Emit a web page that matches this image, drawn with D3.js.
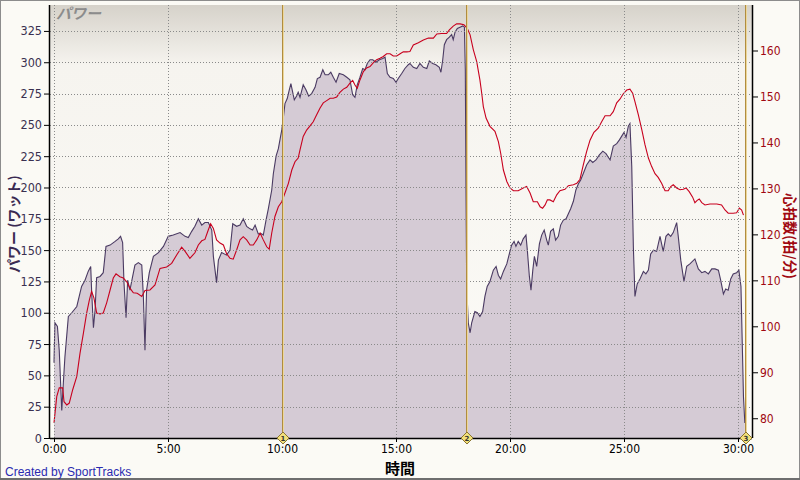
<!DOCTYPE html>
<html><head><meta charset="utf-8">
<script src="https://cdn.jsdelivr.net/npm/d3@7"></script>
<style>
html,body{margin:0;padding:0;background:#fff;}
svg{display:block;}
</style></head>
<body>
<svg id="c" width="800" height="480"></svg>
<script>
// ---- data (time in minutes) ----
const powerTime = [0.00,0.04,0.15,0.23,0.34,0.41,0.48,0.63,0.78,1.00,1.21,1.36,1.50,1.61,1.65,1.73,1.80,1.87,2.02,2.16,2.28,2.46,2.68,2.82,2.92,3.01,3.07,3.16,3.23,3.33,3.45,3.55,3.70,3.85,3.92,3.99,4.06,4.18,4.36,4.58,4.80,5.01,5.23,5.53,5.75,5.89,6.04,6.18,6.33,6.48,6.62,6.77,6.92,6.99,7.13,7.21,7.35,7.57,7.72,
7.84,8.01,8.16,8.30,8.45,8.60,8.71,8.82,8.96,9.11,9.18,9.30,9.40,9.55,9.62,9.74,9.84,9.91,9.99,10.06,10.13,10.23,10.32,10.39,10.47,10.54,10.64,10.71,10.79,10.93,11.05,11.17,11.30,11.45,11.55,11.67,11.79,11.89,12.03,12.14,12.25,12.37,12.51,12.69,12.84,12.98,13.10,13.20,13.30,13.42,13.54,13.64,13.74,13.86,13.98,14.12,14.27,14.42,14.52,14.62,14.74,14.88,15.00,15.10,15.25,15.39,15.54,15.61,
15.76,15.91,16.05,16.20,16.35,16.46,16.61,16.75,16.90,16.97,17.05,17.12,17.22,17.34,17.44,17.51,17.59,17.69,17.81,17.93,18.00,18.04,18.07,18.10,18.17,18.25,18.32,18.46,18.57,18.68,18.80,18.90,19.00,19.12,19.27,19.39,19.49,19.59,19.71,19.86,19.97,20.07,20.18,20.26,20.36,20.47,20.58,20.70,20.76,20.85,20.92,21.00,21.07,21.17,21.29,21.39,21.50,21.61,21.68,21.78,21.90,22.00,22.12,22.22,22.34,22.46,22.56,22.66,22.78,22.89,23.00,23.10,23.21,23.36,23.51,
23.63,23.77,23.92,24.07,24.21,24.39,24.53,24.68,24.80,24.90,25.00,25.09,25.19,25.26,25.34,25.41,25.48,25.58,25.70,25.85,25.96,26.07,26.17,26.29,26.43,26.58,26.65,26.72,26.84,26.94,27.05,27.16,27.31,27.38,27.49,27.63,27.75,27.89,28.11,28.26,28.41,28.55,28.70,28.85,28.99,29.14,29.24,29.36,29.46,29.57,29.68,29.79,29.94,30.04,30.13,30.19,30.24,30.30];
const powerValues = [60,92,89,70,22,44,65,97,100,105,121,126,133,137,118,88,102,128,129,132,153,154,157,159,161,156,124,96,126,118,129,138,140,138,113,70,118,132,145,148,153,161,162,164,161,160,165,169,175,170,172,172,166,145,124,142,148,146,150,
171,169,170,175,169,167,166,170,163,163,162,174,183,198,211,225,231,238,246,256,267,271,278,283,276,270,273,276,272,282,278,273,275,280,287,288,294,290,290,292,288,284,291,290,288,286,274,272,282,288,295,294,299,302,302,300,302,303,304,291,288,287,284,287,291,295,298,299,
296,295,299,296,295,301,299,298,296,292,302,314,318,320,322,318,324,327,328,329,328,294,200,121,92,84,92,101,100,97,101,113,121,125,134,137,130,127,133,139,147,154,157,153,157,154,159,162,150,129,118,134,145,137,155,162,166,158,154,165,167,158,161,170,174,175,179,183,189,198,203,206,211,218,222,
220,222,226,229,227,222,233,235,238,241,244,240,249,251,217,153,113,123,127,133,131,134,147,150,149,161,155,149,161,163,161,164,172,161,142,125,137,139,143,135,132,133,131,135,135,134,126,115,119,118,127,131,132,134,121,73,33,12];

const hrTime = [0.00,0.12,0.23,0.38,0.44,0.56,0.67,0.82,1.00,1.14,1.29,1.43,1.55,1.65,1.75,1.87,2.02,2.16,2.31,2.46,2.60,2.72,2.89,3.04,3.19,3.33,3.48,3.65,3.85,3.99,4.21,4.43,4.65,4.94,5.16,5.38,5.60,5.75,5.96,6.18,6.33,6.48,6.62,6.77,6.87,6.99,7.13,7.28,7.43,7.57,7.72,
7.86,8.01,8.16,8.30,8.45,8.60,8.74,8.89,9.04,9.18,9.33,9.44,9.55,9.69,9.84,9.99,10.13,10.28,10.43,10.57,10.71,10.79,10.93,11.08,11.23,11.37,11.52,11.67,11.81,11.96,12.11,12.25,12.40,12.54,12.69,12.84,12.98,13.10,13.20,13.30,13.42,13.57,13.71,13.86,14.00,14.15,14.30,14.44,14.59,14.74,14.88,15.03,15.18,15.32,15.47,15.61,
15.76,15.98,16.20,16.42,16.64,16.79,17.00,17.22,17.34,17.51,17.66,17.81,17.98,18.13,18.25,18.39,18.54,18.68,18.76,18.83,18.95,19.12,19.34,19.49,19.59,19.71,19.86,20.00,20.15,20.36,20.58,20.73,20.88,21.02,21.20,21.32,21.43,21.54,21.64,21.75,21.90,22.05,22.19,22.41,22.56,22.78,22.93,23.07,23.21,23.36,23.51,
23.68,23.87,24.02,24.17,24.39,24.53,24.68,24.82,24.97,25.12,25.26,25.38,25.48,25.63,25.78,25.92,26.07,26.21,26.36,26.50,26.65,26.80,26.94,27.05,27.16,27.31,27.46,27.60,27.72,27.86,28.01,28.11,28.21,28.30,28.41,28.55,28.77,29.07,29.28,29.43,29.57,29.79,29.94,30.06,30.16,30.24];
const hrValues = [79,84.7,86.6,86.6,83.6,82.9,83.3,86.2,89.1,94.1,98.5,102.8,105.7,107.6,106.2,102.9,102.7,102.9,105.1,107.9,110.5,111.4,110.8,110.5,109.7,108.3,107.3,107.2,106.5,107.8,107.9,109,112.6,112.9,113.7,115.5,117.2,116.3,114.8,116,117.7,118.6,118.9,121,122.3,121.3,118.8,118.1,117.7,115.8,114.8,
114.6,116.6,118.8,119.5,118.8,117.7,117.7,118.8,120.3,118.8,117.3,116.8,120.3,123.9,126,127.1,129,131.1,134,135.8,136.6,138.4,141.3,142.7,143.6,144.5,146,147.5,148.6,149.1,149.6,149.6,149.9,150.9,151.6,152,152.9,153.5,152.5,151.8,153.6,155.4,156.2,156.5,157.3,158,158.3,158.7,159.3,159.3,158.8,158.8,159.3,159.7,159.7,159.8,
161.2,161.7,162.3,162.7,162.7,163.6,163.7,163.7,164.5,165.3,165.8,165.8,165.6,164.8,163.4,160.2,157.6,153.6,150.7,147.8,145.3,143.5,142.4,140.2,137.7,134,131.5,130.1,129.5,129.5,130.1,130.4,129,127.1,127.1,126,125.7,126.4,127.5,127.5,127.1,128.6,129.5,129.8,130.6,130.8,131.1,132,135,138,140.5,
142.2,143.1,144.5,145.8,145.8,146.7,148.6,149.4,150.6,151.4,151.6,150.7,148.9,146,142.8,139.5,136.6,134.8,133.2,132.4,131.1,129.5,129.5,130.4,130.8,130.1,129.7,129.8,130.1,129.3,128.1,126.9,127.4,127.7,126.9,126.4,126.6,126.6,126.4,125.3,124.6,124.6,124.7,125.7,125.3,124.2];

const timeTicks = [0,5,10,15,20,25,30];
const timeTickLabels = ["0:00","5:00","10:00","15:00","20:00","25:00","30:00"];
const powerTicks = [0,25,50,75,100,125,150,175,200,225,250,275,300,325];
const hrTicks = [80,90,100,110,120,130,140,150,160];
const lapTimes = [10.01,18.07,30.31];
const lapLabels = ["1","2","3"];

// ---- layout ----
const L=50, R=752, T=5, B=438;
const svg = d3.select("#c");
const x = d3.scaleLinear().domain([-4/22.8, 698/22.8]).range([L,R]);
const yP = d3.scaleLinear().domain([0, 345.7]).range([B,T]);
const yH = d3.scaleLinear().domain([75.7, 169.9]).range([B,T]);

const defs = svg.append("defs");
const g1 = defs.append("linearGradient").attr("id","bg").attr("x1",0).attr("y1",0).attr("x2",0).attr("y2",1);
g1.append("stop").attr("offset","0").attr("stop-color","#d6d2ca");
g1.append("stop").attr("offset","0.14").attr("stop-color","#f6f4ef");
g1.append("stop").attr("offset","1").attr("stop-color","#fcfbf7");
defs.append("clipPath").attr("id","clip").append("rect").attr("x",L).attr("y",T).attr("width",R-L).attr("height",B-T);

// page background + frame
svg.append("rect").attr("x",0).attr("y",0).attr("width",800).attr("height",480).attr("fill","#fbfaf5");
svg.append("rect").attr("x",0.5).attr("y",0.5).attr("width",799).attr("height",478).attr("fill","none").attr("stroke","#8c8c8c").attr("stroke-width",1);
svg.append("rect").attr("x",0).attr("y",478).attr("width",800).attr("height",2).attr("fill","#6e6e6e");
svg.append("rect").attr("x",L).attr("y",T).attr("width",R-L).attr("height",B-T).attr("fill","url(#bg)");

const plot = svg.append("g").attr("clip-path","url(#clip)");

// power area
const pData = powerTime.map((t,i)=>[t,powerValues[i]]);
plot.append("path").datum(pData)
  .attr("d", d3.area().x(d=>x(d[0])).y0(B).y1(d=>yP(d[1])))
  .attr("fill","#d5cbd5");

// grid
const grid = svg.append("g");
powerTicks.filter(v=>v>0).forEach(v=>{
  grid.append("line").attr("x1",L).attr("x2",R).attr("y1",Math.round(yP(v))+0.5).attr("y2",Math.round(yP(v))+0.5)
    .attr("stroke","#8a8a8a").attr("stroke-dasharray","1,2");
});
timeTicks.forEach(v=>{
  grid.append("line").attr("x1",Math.round(x(v))+0.5).attr("x2",Math.round(x(v))+0.5).attr("y1",T).attr("y2",B+4)
    .attr("stroke","#8a8a8a").attr("stroke-dasharray","1,2");
});

// power line
plot.append("path").datum(pData)
  .attr("d", d3.line().x(d=>x(d[0])).y(d=>yP(d[1])))
  .attr("fill","none").attr("stroke","#4a3a62").attr("stroke-width",1.1);

// hr line
const hData = hrTime.map((t,i)=>[t,hrValues[i]]);
plot.append("path").datum(hData)
  .attr("d", d3.line().x(d=>x(d[0])).y(d=>yH(d[1])))
  .attr("fill","none").attr("stroke","#c8001e").attr("stroke-width",1.1);

// lap lines
lapTimes.forEach(t=>{
  const px = Math.round(x(t));
  svg.append("line").attr("x1",px+0.5).attr("x2",px+0.5).attr("y1",T).attr("y2",B).attr("stroke","#b08c40").attr("stroke-width",1);
  svg.append("line").attr("x1",px+1.5).attr("x2",px+1.5).attr("y1",T).attr("y2",B).attr("stroke","#ecd79a").attr("stroke-width",1);
});

// axes
const axF = '"Liberation Sans Narrow","DejaVu Sans Condensed",sans-serif';
const axL = svg.append("g").attr("transform",`translate(${L},0)`)
  .call(d3.axisLeft(yP).tickValues(powerTicks).tickSize(6).tickPadding(2));
const axB = svg.append("g").attr("transform",`translate(0,${B})`)
  .call(d3.axisBottom(x).tickValues(timeTicks).tickFormat((d,i)=>timeTickLabels[i]).tickSize(4).tickPadding(2));
const axR = svg.append("g").attr("transform",`translate(${R},0)`)
  .call(d3.axisRight(yH).tickValues(hrTicks).tickSize(6).tickPadding(2));
[axL,axB,axR].forEach(a=>{
  a.select(".domain").attr("stroke","#000").attr("stroke-width",1.5);
  a.selectAll(".tick line").attr("stroke","#000");
  a.selectAll("text").attr("font-family",axF).attr("font-size","12.5px");
});
axL.selectAll("text").attr("fill","#3a3050");
axB.selectAll("text").attr("fill","#000").attr("font-size","12px");
axR.selectAll("text").attr("fill","#a00810").attr("font-size","12px");
axR.select(".domain").attr("d",`M0.5,${T}V${B}`);
axL.select(".domain").attr("d",`M-0.5,${T}V${B}`);
axB.select(".domain").attr("d",`M${L},0.5H${R}`);

// lap diamonds
lapTimes.forEach((t,i)=>{
  const px = Math.round(x(t))+1;
  const gd = svg.append("g").attr("transform",`translate(${px},${B})`);
  gd.append("path").attr("d","M0,-6L6,0L0,6L-6,0Z").attr("fill","#f2e07a").attr("stroke","#8a7430").attr("stroke-width",1);
  gd.append("text").attr("text-anchor","middle").attr("y",2.5).attr("font-family","DejaVu Sans,sans-serif").attr("font-size","7px").attr("font-weight","bold").attr("fill","#333").text(lapLabels[i]);
});

// labels
const jp = '"Noto Sans CJK JP",sans-serif';
svg.append("text").attr("x",56).attr("y",19).attr("font-family",jp).attr("font-size","15px").attr("font-weight","bold").attr("font-style","italic").attr("fill","#8c8c8c").text("パワー");
svg.append("text").attr("transform","translate(19,224) rotate(-90)").attr("text-anchor","middle").attr("font-family",jp).attr("font-size","14px").attr("font-weight","bold").attr("fill","#3a2a52").text("パワー (ワット)");
svg.append("text").attr("transform","translate(785,236) rotate(90)").attr("text-anchor","middle").attr("font-family",jp).attr("font-size","14px").attr("font-weight","bold").attr("fill","#a00810").text("心拍数(拍/分)");
svg.append("text").attr("x",400).attr("y",474).attr("text-anchor","middle").attr("font-family",jp).attr("font-size","15px").attr("font-weight","bold").attr("fill","#000").text("時間");
svg.append("text").attr("x",5).attr("y",476).attr("font-family","Liberation Sans,Arial,sans-serif").attr("font-size","12px").attr("fill","#2a2ab0").text("Created by SportTracks");
</script>
</body></html>
